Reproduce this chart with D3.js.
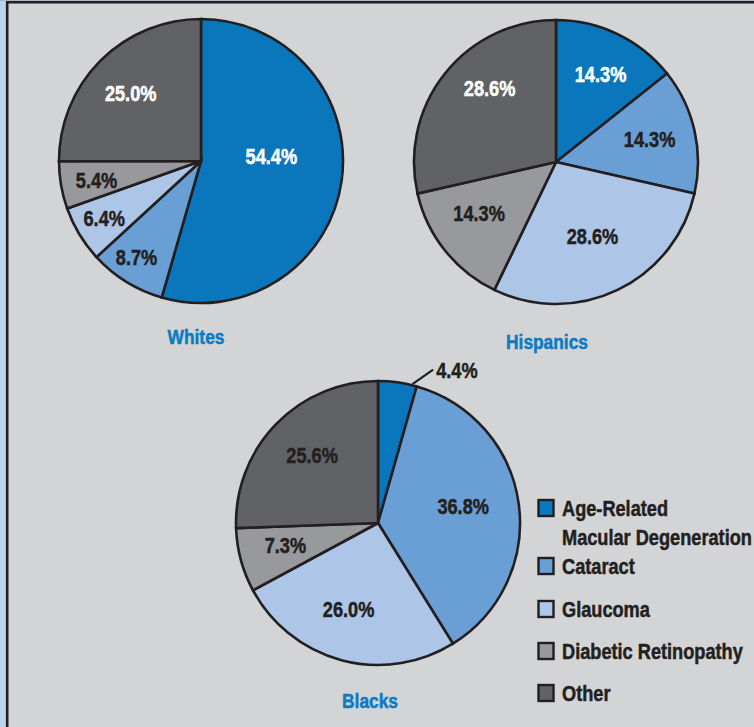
<!DOCTYPE html>
<html><head><meta charset="utf-8">
<script src="https://cdn.jsdelivr.net/npm/d3@7/dist/d3.min.js"></script>
<style>
html,body{margin:0;padding:0;background:#d3d4d6;}
svg{display:block;}
</style></head>
<body><svg id="chart" width="754" height="727"></svg>
<script>
const categories = ["Age-Related Macular Degeneration", "Cataract", "Glaucoma", "Diabetic Retinopathy", "Other"];
const legendLines = [["Age-Related", "Macular Degeneration"], ["Cataract"], ["Glaucoma"], ["Diabetic Retinopathy"], ["Other"]];
const groups = ["Whites", "Hispanics", "Blacks"];
const whitesValues = [54.4, 8.7, 6.4, 5.4, 25.0];
const hispanicsValues = [14.3, 14.3, 28.6, 14.3, 28.6];
const blacksValues = [4.4, 36.8, 26.0, 7.3, 25.6];
const whitesLabels = ["54.4%", "8.7%", "6.4%", "5.4%", "25.0%"];
const hispanicsLabels = ["14.3%", "14.3%", "28.6%", "14.3%", "28.6%"];
const blacksLabels = ["4.4%", "36.8%", "26.0%", "7.3%", "25.6%"];

const colors = ["#0a77bd", "#6a9fd6", "#adc6e8", "#98999c", "#616265"];
const FONT = "'Liberation Sans','Arimo',Arial,sans-serif";
const STROKE = "#231f20";
const TITLE = "#0a7bc4";

const svg = d3.select("#chart");
svg.append("rect").attr("width", 754).attr("height", 727).attr("fill", "#d3d4d6");
svg.append("rect").attr("x", 0).attr("y", 0).attr("width", 6).attr("height", 727).attr("fill", "#bdd3ec");
svg.append("rect").attr("x", 0).attr("y", 0).attr("width", 754).attr("height", 1).attr("fill", "#a9b8c9");
svg.append("line").attr("x1", 7.2).attr("x2", 7.2).attr("y1", 1).attr("y2", 727).attr("stroke", STROKE).attr("stroke-width", 2.6);
svg.append("line").attr("x1", 6).attr("x2", 754).attr("y1", 2.3).attr("y2", 2.3).attr("stroke", STROKE).attr("stroke-width", 2.6);

const probe = svg.append("text").attr("font-family", FONT).attr("font-weight", "bold")
  .attr("font-size", 22).text("Macular Degeneration");
const probeLen = probe.node().getComputedTextLength() || 240;
probe.remove();
const SX = 190 / probeLen;

function addText(parent, x, y, str, opts) {
  const col = opts.color || STROKE;
  return parent.append("text")
    .attr("transform", `translate(${x},${y}) scale(${SX},1)`)
    .attr("dy", "0.36em")
    .attr("text-anchor", opts.anchor || "middle")
    .attr("font-family", FONT).attr("font-weight", "bold")
    .attr("font-size", opts.size || 22)
    .attr("fill", col)
    .attr("stroke", col).attr("stroke-width", 0.5)
    .text(str);
}

const R = 142;
const pie = d3.pie().sort(null).value(d => d);
const arc = d3.arc().innerRadius(0).outerRadius(R);

const charts = [
  {name: groups[0], values: whitesValues, labels: whitesLabels, cx: 201, cy: 161, titleX: 196, titleY: 336,
   lr: [70, 117, 113, 107, 98], off: [[1, -15], [-3, -3], [0, -1], [1, 1], [-1, 1]],
   white: [true, false, false, false, true]},
  {name: groups[1], values: hispanicsValues, labels: hispanicsLabels, cx: 556, cy: 162, titleX: 547, titleY: 341,
   lr: [98, 97, 84, 92, 99], off: [[2, 0], [-1, -1], [0, -2], [-5, -6], [11, -12]],
   white: [true, false, false, false, true]},
  {name: groups[2], values: blacksValues, labels: blacksLabels, cx: 378, cy: 523, titleX: 370, titleY: 700,
   lr: [null, 86, 91, 96, 93], off: [[0, 0], [0, -5], [-6, -2], [0, -3], [1, -3]],
   white: [false, false, false, false, false]}
];

charts.forEach(c => {
  const g = svg.append("g").attr("transform", `translate(${c.cx},${c.cy})`);
  const arcs = pie(c.values);
  g.selectAll("path").data(arcs).enter().append("path")
    .attr("d", arc)
    .attr("fill", (d, i) => colors[i])
    .attr("stroke", STROKE).attr("stroke-width", 2.6).attr("stroke-linejoin", "miter");
  arcs.forEach((d, i) => {
    if (c.lr[i] == null) {
      const a0 = d.endAngle * 0.88;
      const a1 = d.endAngle * 1.25;
      const p0 = [Math.sin(a0) * (R + 1), -Math.cos(a0) * (R + 1)];
      const p1 = [Math.sin(a1) * 163, -Math.cos(a1) * 163];
      g.append("line").attr("x1", p0[0]).attr("y1", p0[1]).attr("x2", p1[0]).attr("y2", p1[1])
        .attr("stroke", STROKE).attr("stroke-width", 2.2);
      addText(g, p1[0] + 3, p1[1], c.labels[i], {anchor: "start"});
    } else {
      const la = d3.arc().innerRadius(c.lr[i]).outerRadius(c.lr[i]);
      const p = la.centroid(d);
      addText(g, p[0] + c.off[i][0], p[1] + c.off[i][1], c.labels[i], {color: c.white[i] ? "#ffffff" : STROKE});
    }
  });
  addText(svg, c.titleX, c.titleY, c.name, {size: 21, color: TITLE});
});

const legendY = [508, 566, 609, 651, 693];
const lg = svg.append("g");
categories.forEach((cat, i) => {
  lg.append("rect").attr("x", 538.5).attr("y", legendY[i] - 8).attr("width", 15).attr("height", 16)
    .attr("fill", colors[i]).attr("stroke", STROKE).attr("stroke-width", 2.4);
  legendLines[i].forEach((ln, j) => {
    addText(lg, 562, legendY[i] + j * 29, ln, {anchor: "start"});
  });
});
</script></body></html>
